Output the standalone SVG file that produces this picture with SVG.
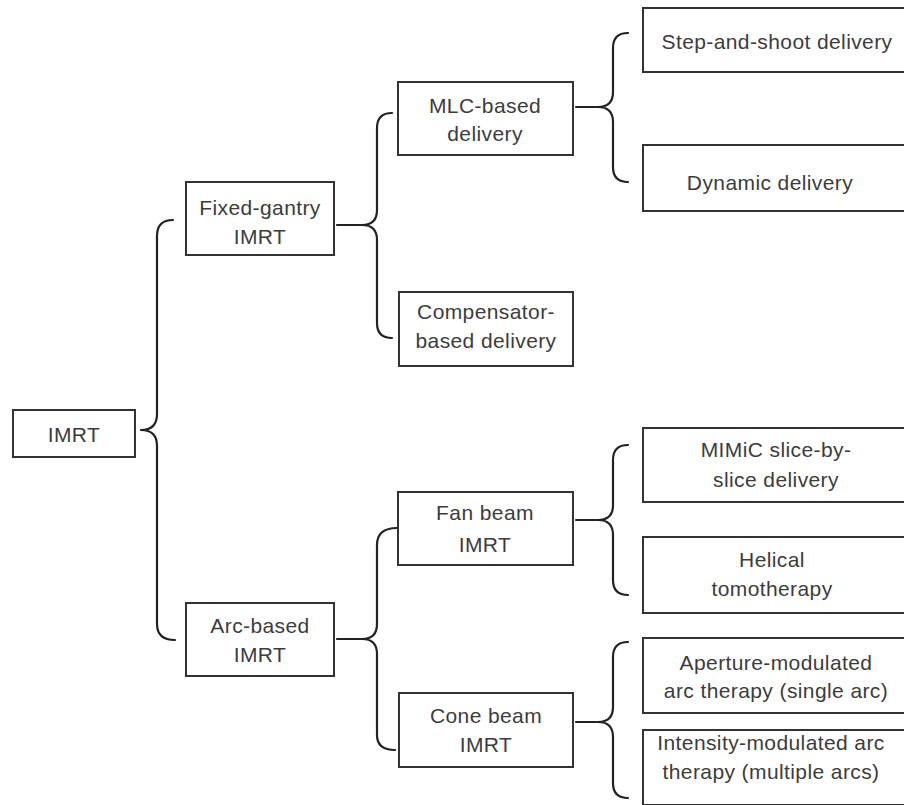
<svg xmlns="http://www.w3.org/2000/svg" width="904" height="805" viewBox="0 0 904 805">
<style>
.box{fill:#fff;stroke:#333;stroke-width:2}
.br{fill:none;stroke:#222;stroke-width:2.2;stroke-linecap:round;stroke-linejoin:round}
text{font-family:"Liberation Sans",Arial,sans-serif;font-size:21px;fill:#3c3c3c;text-anchor:middle;letter-spacing:0.4px}
</style>
<rect width="904" height="805" fill="#fff"/>
<g id="connectors">
<path class="br" d="M173,220 Q157,220 157,236 L157,414 Q157,430 141,430 Q157,430 157,446 L157,624 Q157,640 175,640"/>
<path class="br" d="M392,113 Q377,113 377,128 L377,210 Q377,225 362,225 L337,225 M362,225 Q377,225 377,240 L377,323 Q377,338 392,338"/>
<path class="br" d="M397,528 Q377,528 377,545 L377,624 Q377,639 362,639 L337,639 M362,639 Q377,639 377,654 L377,735 Q377,750 395,750"/>
<path class="br" d="M628,33 Q613,33 613,48 L613,92 Q613,107 598,107 L576,107 M598,107 Q613,107 613,122 L613,167 Q613,182 628,182"/>
<path class="br" d="M628,445 Q613,445 613,460 L613,505 Q613,520 598,520 L576,520 M598,520 Q613,520 613,535 L613,580 Q613,595 628,595"/>
<path class="br" d="M628,642 Q613,642 613,657 L613,707 Q613,722 598,722 L576,722 M598,722 Q613,722 613,737 L613,783 Q613,798 628,798"/>
</g>
<g id="n-imrt"><rect class="box" x="13" y="410" width="122" height="47"/><text x="74" y="442">IMRT</text></g>
<g id="n-fixed"><rect class="box" x="186" y="182" width="148" height="73"/><text x="260" y="215">Fixed-gantry</text><text x="260" y="244">IMRT</text></g>
<g id="n-arc"><rect class="box" x="186" y="603" width="148" height="73"/><text x="260" y="633">Arc-based</text><text x="260" y="662">IMRT</text></g>
<g id="n-mlc"><rect class="box" x="398" y="82" width="175" height="73"/><text x="485" y="113">MLC-based</text><text x="485" y="141">delivery</text></g>
<g id="n-comp"><rect class="box" x="399" y="292" width="174" height="74"/><text x="486" y="319">Compensator-</text><text x="486" y="348">based delivery</text></g>
<g id="n-fan"><rect class="box" x="398" y="492" width="175" height="73"/><text x="485" y="520">Fan beam</text><text x="485" y="552">IMRT</text></g>
<g id="n-cone"><rect class="box" x="399" y="693" width="174" height="74"/><text x="486" y="723">Cone beam</text><text x="486" y="752">IMRT</text></g>
<g id="n-step"><rect class="box" x="643" y="8" width="270" height="64"/><text x="777" y="49">Step-and-shoot delivery</text></g>
<g id="n-dyn"><rect class="box" x="643" y="145" width="270" height="66"/><text x="770" y="190">Dynamic delivery</text></g>
<g id="n-mimic"><rect class="box" x="643" y="428" width="270" height="74"/><text x="776" y="457">MIMiC slice-by-</text><text x="776" y="487">slice delivery</text></g>
<g id="n-helical"><rect class="box" x="643" y="537" width="270" height="76"/><text x="772" y="567">Helical</text><text x="772" y="596">tomotherapy</text></g>
<g id="n-amat"><rect class="box" x="643" y="638" width="270" height="75"/><text x="776" y="670">Aperture-modulated</text><text x="776" y="698">arc therapy (single arc)</text></g>
<g id="n-imat"><rect class="box" x="643" y="730" width="270" height="75"/><text x="771" y="750">Intensity-modulated arc</text><text x="771" y="779">therapy (multiple arcs)</text></g>
</svg>
